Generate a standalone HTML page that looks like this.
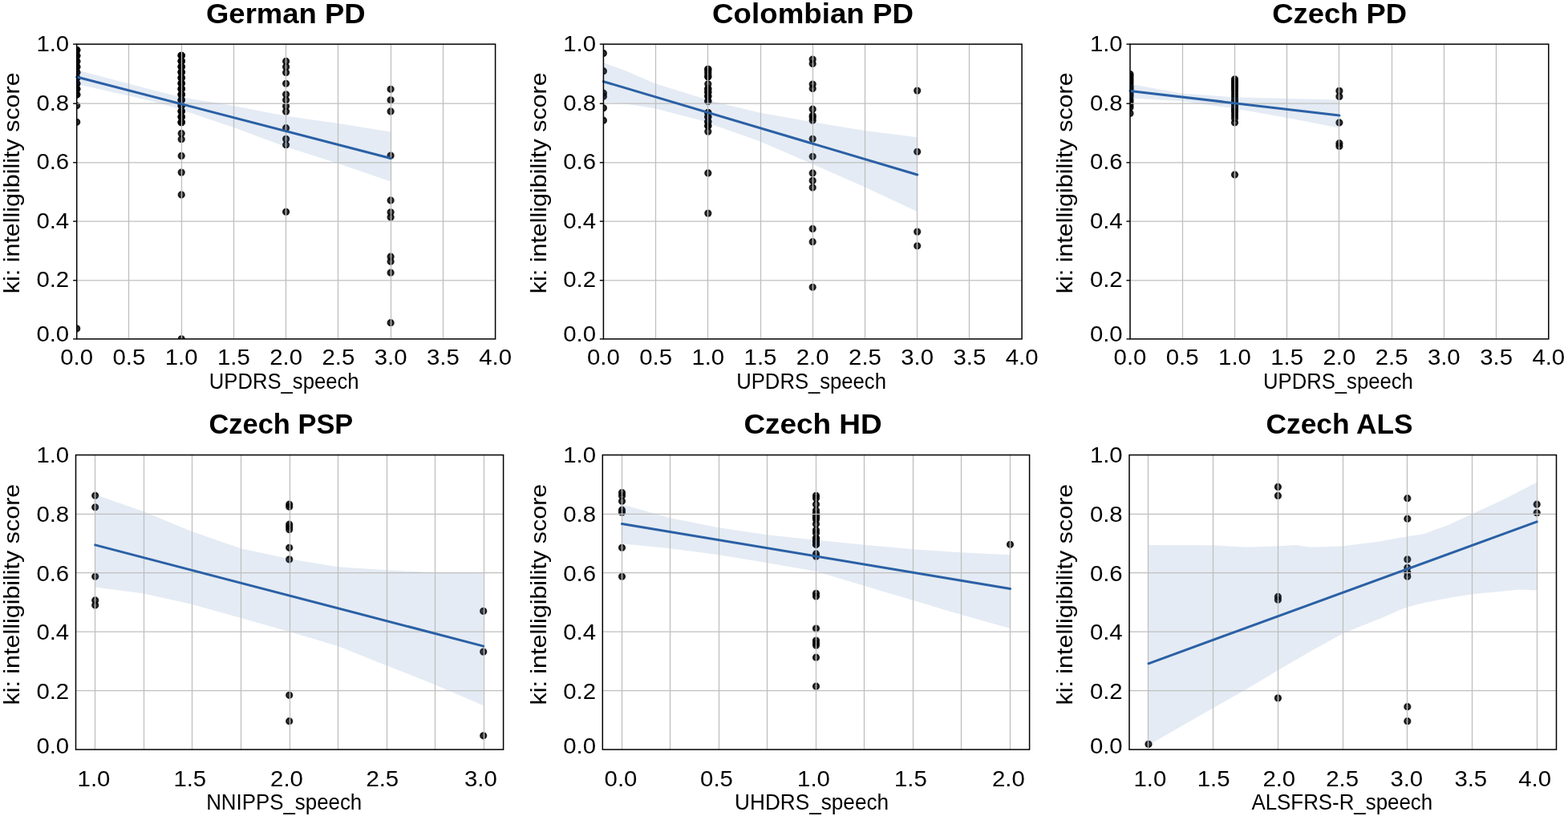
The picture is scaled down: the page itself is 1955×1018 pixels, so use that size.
<!DOCTYPE html>
<html lang="en"><head><meta charset="utf-8"><title>ki intelligibility score vs. clinical speech ratings</title>
<style>
html,body{margin:0;padding:0;background:#fff;}
body{width:1955px;height:1018px;overflow:hidden;}
svg{display:block;}
text{font-family:"Liberation Sans", sans-serif;fill:#000;}
.tk{font-size:28.2px;}
.lb{font-size:27.5px;}
.yl{font-size:28.5px;}
.tt{font-size:35.7px;font-weight:bold;}
.d{fill:#000;fill-opacity:.8;stroke:#000;stroke-opacity:.8;stroke-width:1.9;}
.g{stroke:#bfbfbf;stroke-width:1.3;fill:none;}
.sp{stroke:#000;stroke-width:1.5;fill:none;}
.tm{stroke:#000;stroke-width:1.4;fill:none;}
.rl{stroke:#2a60a5;stroke-width:3.0;fill:none;stroke-linecap:round;}
.bd{fill:#4c78b4;fill-opacity:0.15;stroke:none;}
</style></head><body>
<svg width="1955" height="1018" viewBox="0 0 1955 1018" role="img" aria-label="Six scatter plots of ki intelligibility score against clinical speech ratings with regression lines">
<rect x="0" y="0" width="1955" height="1018" fill="#fff"/>
<g id="panel1">
<clipPath id="c0"><rect x="95.7" y="55.1" width="521.9" height="367.8"/></clipPath>
<g clip-path="url(#c0)">
<circle class="d" cx="95.7" cy="62.6" r="3.7"/>
<circle class="d" cx="95.7" cy="62.6" r="3.7"/>
<circle class="d" cx="95.7" cy="62.6" r="3.7"/>
<circle class="d" cx="95.7" cy="69.5" r="3.7"/>
<circle class="d" cx="95.7" cy="69.5" r="3.7"/>
<circle class="d" cx="95.7" cy="69.5" r="3.7"/>
<circle class="d" cx="95.7" cy="76.5" r="3.7"/>
<circle class="d" cx="95.7" cy="76.5" r="3.7"/>
<circle class="d" cx="95.7" cy="76.5" r="3.7"/>
<circle class="d" cx="95.7" cy="83.4" r="3.7"/>
<circle class="d" cx="95.7" cy="83.4" r="3.7"/>
<circle class="d" cx="95.7" cy="83.4" r="3.7"/>
<circle class="d" cx="95.7" cy="90.3" r="3.7"/>
<circle class="d" cx="95.7" cy="90.3" r="3.7"/>
<circle class="d" cx="95.7" cy="90.3" r="3.7"/>
<circle class="d" cx="95.7" cy="97.2" r="3.7"/>
<circle class="d" cx="95.7" cy="97.2" r="3.7"/>
<circle class="d" cx="95.7" cy="97.2" r="3.7"/>
<circle class="d" cx="95.7" cy="104.2" r="3.7"/>
<circle class="d" cx="95.7" cy="104.2" r="3.7"/>
<circle class="d" cx="95.7" cy="104.2" r="3.7"/>
<circle class="d" cx="95.7" cy="111.1" r="3.7"/>
<circle class="d" cx="95.7" cy="111.1" r="3.7"/>
<circle class="d" cx="95.7" cy="111.1" r="3.7"/>
<circle class="d" cx="95.7" cy="118" r="3.7"/>
<circle class="d" cx="95.7" cy="118" r="3.7"/>
<circle class="d" cx="95.7" cy="118" r="3.7"/>
<circle class="d" cx="95.7" cy="131.8" r="3.7"/>
<circle class="d" cx="95.7" cy="152.3" r="3.7"/>
<circle class="d" cx="95.7" cy="409.9" r="3.7"/>
<circle class="d" cx="226.2" cy="69.3" r="3.7"/>
<circle class="d" cx="226.2" cy="69.3" r="3.7"/>
<circle class="d" cx="226.2" cy="69.3" r="3.7"/>
<circle class="d" cx="226.2" cy="76.2" r="3.7"/>
<circle class="d" cx="226.2" cy="76.2" r="3.7"/>
<circle class="d" cx="226.2" cy="76.2" r="3.7"/>
<circle class="d" cx="226.2" cy="83.2" r="3.7"/>
<circle class="d" cx="226.2" cy="83.2" r="3.7"/>
<circle class="d" cx="226.2" cy="83.2" r="3.7"/>
<circle class="d" cx="226.2" cy="90.1" r="3.7"/>
<circle class="d" cx="226.2" cy="90.1" r="3.7"/>
<circle class="d" cx="226.2" cy="90.1" r="3.7"/>
<circle class="d" cx="226.2" cy="97.1" r="3.7"/>
<circle class="d" cx="226.2" cy="97.1" r="3.7"/>
<circle class="d" cx="226.2" cy="97.1" r="3.7"/>
<circle class="d" cx="226.2" cy="104" r="3.7"/>
<circle class="d" cx="226.2" cy="104" r="3.7"/>
<circle class="d" cx="226.2" cy="104" r="3.7"/>
<circle class="d" cx="226.2" cy="110.9" r="3.7"/>
<circle class="d" cx="226.2" cy="110.9" r="3.7"/>
<circle class="d" cx="226.2" cy="110.9" r="3.7"/>
<circle class="d" cx="226.2" cy="117.9" r="3.7"/>
<circle class="d" cx="226.2" cy="117.9" r="3.7"/>
<circle class="d" cx="226.2" cy="117.9" r="3.7"/>
<circle class="d" cx="226.2" cy="124.8" r="3.7"/>
<circle class="d" cx="226.2" cy="124.8" r="3.7"/>
<circle class="d" cx="226.2" cy="124.8" r="3.7"/>
<circle class="d" cx="226.2" cy="131.8" r="3.7"/>
<circle class="d" cx="226.2" cy="131.8" r="3.7"/>
<circle class="d" cx="226.2" cy="131.8" r="3.7"/>
<circle class="d" cx="226.2" cy="138.7" r="3.7"/>
<circle class="d" cx="226.2" cy="138.7" r="3.7"/>
<circle class="d" cx="226.2" cy="138.7" r="3.7"/>
<circle class="d" cx="226.2" cy="145.7" r="3.7"/>
<circle class="d" cx="226.2" cy="145.7" r="3.7"/>
<circle class="d" cx="226.2" cy="145.7" r="3.7"/>
<circle class="d" cx="226.2" cy="152.6" r="3.7"/>
<circle class="d" cx="226.2" cy="152.6" r="3.7"/>
<circle class="d" cx="226.2" cy="152.6" r="3.7"/>
<circle class="d" cx="226.2" cy="166.5" r="3.7"/>
<circle class="d" cx="226.2" cy="173.7" r="3.7"/>
<circle class="d" cx="226.2" cy="194.5" r="3.7"/>
<circle class="d" cx="226.2" cy="215.1" r="3.7"/>
<circle class="d" cx="226.2" cy="243" r="3.7"/>
<circle class="d" cx="226.2" cy="422.9" r="3.7"/>
<circle class="d" cx="356.6" cy="76.5" r="3.7"/>
<circle class="d" cx="356.6" cy="83.4" r="3.7"/>
<circle class="d" cx="356.6" cy="90.5" r="3.7"/>
<circle class="d" cx="356.6" cy="104.3" r="3.7"/>
<circle class="d" cx="356.6" cy="117.8" r="3.7"/>
<circle class="d" cx="356.6" cy="124.8" r="3.7"/>
<circle class="d" cx="356.6" cy="132.4" r="3.7"/>
<circle class="d" cx="356.6" cy="139.1" r="3.7"/>
<circle class="d" cx="356.6" cy="159.7" r="3.7"/>
<circle class="d" cx="356.6" cy="173.4" r="3.7"/>
<circle class="d" cx="356.6" cy="180.7" r="3.7"/>
<circle class="d" cx="356.6" cy="264.3" r="3.7"/>
<circle class="d" cx="487.1" cy="111.3" r="3.7"/>
<circle class="d" cx="487.1" cy="124.9" r="3.7"/>
<circle class="d" cx="487.1" cy="139" r="3.7"/>
<circle class="d" cx="487.1" cy="194.1" r="3.7"/>
<circle class="d" cx="487.1" cy="250" r="3.7"/>
<circle class="d" cx="487.1" cy="264.8" r="3.7"/>
<circle class="d" cx="487.1" cy="271" r="3.7"/>
<circle class="d" cx="487.1" cy="320.2" r="3.7"/>
<circle class="d" cx="487.1" cy="326.2" r="3.7"/>
<circle class="d" cx="487.1" cy="340.2" r="3.7"/>
<circle class="d" cx="487.1" cy="402.7" r="3.7"/>
<polygon class="bd" points="95.7,87.2 160.9,104.4 200.1,114.8 226.2,121.3 291.4,132 356.6,144.8 421.9,154 487.1,164.5 487.1,226.5 421.9,204.1 356.6,183.3 291.4,159 226.2,137 200.1,129 160.9,119.5 95.7,105"/>
<line class="g" x1="160.5" y1="55.1" x2="160.5" y2="422.9"/>
<line class="g" x1="226.5" y1="55.1" x2="226.5" y2="422.9"/>
<line class="g" x1="291.5" y1="55.1" x2="291.5" y2="422.9"/>
<line class="g" x1="356.5" y1="55.1" x2="356.5" y2="422.9"/>
<line class="g" x1="421.5" y1="55.1" x2="421.5" y2="422.9"/>
<line class="g" x1="487.5" y1="55.1" x2="487.5" y2="422.9"/>
<line class="g" x1="552.5" y1="55.1" x2="552.5" y2="422.9"/>
<line class="g" x1="95.7" y1="349.8" x2="617.6" y2="349.8"/>
<line class="g" x1="95.7" y1="276.1" x2="617.6" y2="276.1"/>
<line class="g" x1="95.7" y1="202.8" x2="617.6" y2="202.8"/>
<line class="g" x1="95.7" y1="129.2" x2="617.6" y2="129.2"/>
</g>
<line class="rl" x1="95.7" y1="96" x2="487.1" y2="197.5"/>
<rect class="sp" x="95.7" y="55.1" width="521.9" height="367.8"/>
<line class="tm" x1="91.1" y1="422.9" x2="95.7" y2="422.9"/>
<text class="tk" x="86.2" y="426.4" text-anchor="end" textLength="40.8" lengthAdjust="spacingAndGlyphs">0.0</text>
<line class="tm" x1="91.1" y1="349.8" x2="95.7" y2="349.8"/>
<text class="tk" x="86.2" y="358" text-anchor="end" textLength="40.8" lengthAdjust="spacingAndGlyphs">0.2</text>
<line class="tm" x1="91.1" y1="276.1" x2="95.7" y2="276.1"/>
<text class="tk" x="86.2" y="284.6" text-anchor="end" textLength="40.8" lengthAdjust="spacingAndGlyphs">0.4</text>
<line class="tm" x1="91.1" y1="202.8" x2="95.7" y2="202.8"/>
<text class="tk" x="86.2" y="211.2" text-anchor="end" textLength="40.8" lengthAdjust="spacingAndGlyphs">0.6</text>
<line class="tm" x1="91.1" y1="129.2" x2="95.7" y2="129.2"/>
<text class="tk" x="86.2" y="137.9" text-anchor="end" textLength="40.8" lengthAdjust="spacingAndGlyphs">0.8</text>
<line class="tm" x1="91.1" y1="55.1" x2="95.7" y2="55.1"/>
<text class="tk" x="86.2" y="64.1" text-anchor="end" textLength="40.8" lengthAdjust="spacingAndGlyphs">1.0</text>
<text class="tk" x="95.7" y="455.4" text-anchor="middle" textLength="40.8" lengthAdjust="spacingAndGlyphs">0.0</text>
<text class="tk" x="160.9" y="455.4" text-anchor="middle" textLength="40.8" lengthAdjust="spacingAndGlyphs">0.5</text>
<text class="tk" x="226.2" y="455.4" text-anchor="middle" textLength="40.8" lengthAdjust="spacingAndGlyphs">1.0</text>
<text class="tk" x="291.4" y="455.4" text-anchor="middle" textLength="40.8" lengthAdjust="spacingAndGlyphs">1.5</text>
<text class="tk" x="356.6" y="455.4" text-anchor="middle" textLength="40.8" lengthAdjust="spacingAndGlyphs">2.0</text>
<text class="tk" x="421.9" y="455.4" text-anchor="middle" textLength="40.8" lengthAdjust="spacingAndGlyphs">2.5</text>
<text class="tk" x="487.1" y="455.4" text-anchor="middle" textLength="40.8" lengthAdjust="spacingAndGlyphs">3.0</text>
<text class="tk" x="552.4" y="455.4" text-anchor="middle" textLength="40.8" lengthAdjust="spacingAndGlyphs">3.5</text>
<text class="tk" x="617.6" y="455.4" text-anchor="middle" textLength="40.8" lengthAdjust="spacingAndGlyphs">4.0</text>
<text class="tt" x="356.3" y="29.3" text-anchor="middle" textLength="198.6" lengthAdjust="spacingAndGlyphs">German PD</text>
<text class="lb" x="354.2" y="485.2" text-anchor="middle" textLength="186.7" lengthAdjust="spacingAndGlyphs">UPDRS_speech</text>
<text class="yl" transform="translate(23.9 228.3) rotate(-90)" text-anchor="middle" textLength="275.8" lengthAdjust="spacingAndGlyphs">ki: intelligibility score</text>
</g>
<g id="panel2">
<clipPath id="c1"><rect x="752.4" y="55.1" width="521.7" height="367.8"/></clipPath>
<g clip-path="url(#c1)">
<circle class="d" cx="752.4" cy="66.5" r="3.7"/>
<circle class="d" cx="752.4" cy="88.7" r="3.7"/>
<circle class="d" cx="752.4" cy="116.2" r="3.7"/>
<circle class="d" cx="752.4" cy="120.2" r="3.7"/>
<circle class="d" cx="752.4" cy="134.8" r="3.7"/>
<circle class="d" cx="752.4" cy="150.2" r="3.7"/>
<circle class="d" cx="882.8" cy="86.4" r="3.7"/>
<circle class="d" cx="882.8" cy="86.4" r="3.7"/>
<circle class="d" cx="882.8" cy="89.5" r="3.7"/>
<circle class="d" cx="882.8" cy="92" r="3.7"/>
<circle class="d" cx="882.8" cy="95.6" r="3.7"/>
<circle class="d" cx="882.8" cy="95.6" r="3.7"/>
<circle class="d" cx="882.8" cy="104.8" r="3.7"/>
<circle class="d" cx="882.8" cy="110.9" r="3.7"/>
<circle class="d" cx="882.8" cy="110.9" r="3.7"/>
<circle class="d" cx="882.8" cy="115" r="3.7"/>
<circle class="d" cx="882.8" cy="115" r="3.7"/>
<circle class="d" cx="882.8" cy="120.1" r="3.7"/>
<circle class="d" cx="882.8" cy="120.1" r="3.7"/>
<circle class="d" cx="882.8" cy="126.3" r="3.7"/>
<circle class="d" cx="882.8" cy="126.3" r="3.7"/>
<circle class="d" cx="882.8" cy="140.6" r="3.7"/>
<circle class="d" cx="882.8" cy="140.6" r="3.7"/>
<circle class="d" cx="882.8" cy="145.7" r="3.7"/>
<circle class="d" cx="882.8" cy="145.7" r="3.7"/>
<circle class="d" cx="882.8" cy="151.8" r="3.7"/>
<circle class="d" cx="882.8" cy="151.8" r="3.7"/>
<circle class="d" cx="882.8" cy="157" r="3.7"/>
<circle class="d" cx="882.8" cy="157" r="3.7"/>
<circle class="d" cx="882.8" cy="164.1" r="3.7"/>
<circle class="d" cx="882.8" cy="216" r="3.7"/>
<circle class="d" cx="882.8" cy="266.1" r="3.7"/>
<circle class="d" cx="1013.2" cy="74.1" r="3.7"/>
<circle class="d" cx="1013.2" cy="79.5" r="3.7"/>
<circle class="d" cx="1013.2" cy="105.1" r="3.7"/>
<circle class="d" cx="1013.2" cy="110.5" r="3.7"/>
<circle class="d" cx="1013.2" cy="136.2" r="3.7"/>
<circle class="d" cx="1013.2" cy="144.2" r="3.7"/>
<circle class="d" cx="1013.2" cy="146.5" r="3.7"/>
<circle class="d" cx="1013.2" cy="150.2" r="3.7"/>
<circle class="d" cx="1013.2" cy="173.3" r="3.7"/>
<circle class="d" cx="1013.2" cy="195.3" r="3.7"/>
<circle class="d" cx="1013.2" cy="216" r="3.7"/>
<circle class="d" cx="1013.2" cy="225.4" r="3.7"/>
<circle class="d" cx="1013.2" cy="234" r="3.7"/>
<circle class="d" cx="1013.2" cy="285.5" r="3.7"/>
<circle class="d" cx="1013.2" cy="301.7" r="3.7"/>
<circle class="d" cx="1013.2" cy="358.3" r="3.7"/>
<circle class="d" cx="1143.7" cy="113.1" r="3.7"/>
<circle class="d" cx="1143.7" cy="189.3" r="3.7"/>
<circle class="d" cx="1143.7" cy="289.1" r="3.7"/>
<circle class="d" cx="1143.7" cy="306.8" r="3.7"/>
<polygon class="bd" points="752.4,78.1 783,89.6 817.6,104.6 875,122.3 882.8,125 948,140.8 1013.2,152.3 1078.5,163 1143.7,171.3 1143.7,264.1 1078.5,233.5 1013.2,204.8 948,176.6 882.8,153.6 875,150.6 817.6,135.6 783,130 752.4,127.2"/>
<line class="g" x1="817.5" y1="55.1" x2="817.5" y2="422.9"/>
<line class="g" x1="882.5" y1="55.1" x2="882.5" y2="422.9"/>
<line class="g" x1="948.5" y1="55.1" x2="948.5" y2="422.9"/>
<line class="g" x1="1013.5" y1="55.1" x2="1013.5" y2="422.9"/>
<line class="g" x1="1078.5" y1="55.1" x2="1078.5" y2="422.9"/>
<line class="g" x1="1143.5" y1="55.1" x2="1143.5" y2="422.9"/>
<line class="g" x1="1208.5" y1="55.1" x2="1208.5" y2="422.9"/>
<line class="g" x1="752.4" y1="349.8" x2="1274.1" y2="349.8"/>
<line class="g" x1="752.4" y1="276.1" x2="1274.1" y2="276.1"/>
<line class="g" x1="752.4" y1="202.8" x2="1274.1" y2="202.8"/>
<line class="g" x1="752.4" y1="129.2" x2="1274.1" y2="129.2"/>
</g>
<line class="rl" x1="752.4" y1="101.7" x2="1143.7" y2="218"/>
<rect class="sp" x="752.4" y="55.1" width="521.7" height="367.8"/>
<line class="tm" x1="747.8" y1="422.9" x2="752.4" y2="422.9"/>
<text class="tk" x="743.1" y="426.4" text-anchor="end" textLength="40.8" lengthAdjust="spacingAndGlyphs">0.0</text>
<line class="tm" x1="747.8" y1="349.8" x2="752.4" y2="349.8"/>
<text class="tk" x="743.1" y="358" text-anchor="end" textLength="40.8" lengthAdjust="spacingAndGlyphs">0.2</text>
<line class="tm" x1="747.8" y1="276.1" x2="752.4" y2="276.1"/>
<text class="tk" x="743.1" y="284.6" text-anchor="end" textLength="40.8" lengthAdjust="spacingAndGlyphs">0.4</text>
<line class="tm" x1="747.8" y1="202.8" x2="752.4" y2="202.8"/>
<text class="tk" x="743.1" y="211.2" text-anchor="end" textLength="40.8" lengthAdjust="spacingAndGlyphs">0.6</text>
<line class="tm" x1="747.8" y1="129.2" x2="752.4" y2="129.2"/>
<text class="tk" x="743.1" y="137.9" text-anchor="end" textLength="40.8" lengthAdjust="spacingAndGlyphs">0.8</text>
<line class="tm" x1="747.8" y1="55.1" x2="752.4" y2="55.1"/>
<text class="tk" x="743.1" y="64.1" text-anchor="end" textLength="40.8" lengthAdjust="spacingAndGlyphs">1.0</text>
<text class="tk" x="752.4" y="455.4" text-anchor="middle" textLength="40.8" lengthAdjust="spacingAndGlyphs">0.0</text>
<text class="tk" x="817.6" y="455.4" text-anchor="middle" textLength="40.8" lengthAdjust="spacingAndGlyphs">0.5</text>
<text class="tk" x="882.8" y="455.4" text-anchor="middle" textLength="40.8" lengthAdjust="spacingAndGlyphs">1.0</text>
<text class="tk" x="948" y="455.4" text-anchor="middle" textLength="40.8" lengthAdjust="spacingAndGlyphs">1.5</text>
<text class="tk" x="1013.2" y="455.4" text-anchor="middle" textLength="40.8" lengthAdjust="spacingAndGlyphs">2.0</text>
<text class="tk" x="1078.5" y="455.4" text-anchor="middle" textLength="40.8" lengthAdjust="spacingAndGlyphs">2.5</text>
<text class="tk" x="1143.7" y="455.4" text-anchor="middle" textLength="40.8" lengthAdjust="spacingAndGlyphs">3.0</text>
<text class="tk" x="1208.9" y="455.4" text-anchor="middle" textLength="40.8" lengthAdjust="spacingAndGlyphs">3.5</text>
<text class="tk" x="1274.1" y="455.4" text-anchor="middle" textLength="40.8" lengthAdjust="spacingAndGlyphs">4.0</text>
<text class="tt" x="1013.5" y="29.3" text-anchor="middle" textLength="250.8" lengthAdjust="spacingAndGlyphs">Colombian PD</text>
<text class="lb" x="1011.6" y="485.2" text-anchor="middle" textLength="186.7" lengthAdjust="spacingAndGlyphs">UPDRS_speech</text>
<text class="yl" transform="translate(680.6 228.3) rotate(-90)" text-anchor="middle" textLength="275.8" lengthAdjust="spacingAndGlyphs">ki: intelligibility score</text>
</g>
<g id="panel3">
<clipPath id="c2"><rect x="1409" y="55.1" width="521.8" height="367.8"/></clipPath>
<g clip-path="url(#c2)">
<circle class="d" cx="1409" cy="92.5" r="3.7"/>
<circle class="d" cx="1409" cy="95" r="3.7"/>
<circle class="d" cx="1409" cy="98.1" r="3.7"/>
<circle class="d" cx="1409" cy="100.9" r="3.7"/>
<circle class="d" cx="1409" cy="104.1" r="3.7"/>
<circle class="d" cx="1409" cy="107.3" r="3.7"/>
<circle class="d" cx="1409" cy="109.5" r="3.7"/>
<circle class="d" cx="1409" cy="111.6" r="3.7"/>
<circle class="d" cx="1409" cy="115.2" r="3.7"/>
<circle class="d" cx="1409" cy="117.8" r="3.7"/>
<circle class="d" cx="1409" cy="120.3" r="3.7"/>
<circle class="d" cx="1409" cy="124.2" r="3.7"/>
<circle class="d" cx="1409" cy="127.2" r="3.7"/>
<circle class="d" cx="1409" cy="130.8" r="3.7"/>
<circle class="d" cx="1409" cy="134" r="3.7"/>
<circle class="d" cx="1409" cy="141.4" r="3.7"/>
<circle class="d" cx="1539.5" cy="98.8" r="3.7"/>
<circle class="d" cx="1539.5" cy="101.3" r="3.7"/>
<circle class="d" cx="1539.5" cy="103.6" r="3.7"/>
<circle class="d" cx="1539.5" cy="106.4" r="3.7"/>
<circle class="d" cx="1539.5" cy="108.8" r="3.7"/>
<circle class="d" cx="1539.5" cy="111" r="3.7"/>
<circle class="d" cx="1539.5" cy="113.8" r="3.7"/>
<circle class="d" cx="1539.5" cy="117.6" r="3.7"/>
<circle class="d" cx="1539.5" cy="121.1" r="3.7"/>
<circle class="d" cx="1539.5" cy="124.6" r="3.7"/>
<circle class="d" cx="1539.5" cy="127.1" r="3.7"/>
<circle class="d" cx="1539.5" cy="130.2" r="3.7"/>
<circle class="d" cx="1539.5" cy="132.8" r="3.7"/>
<circle class="d" cx="1539.5" cy="135.2" r="3.7"/>
<circle class="d" cx="1539.5" cy="137.5" r="3.7"/>
<circle class="d" cx="1539.5" cy="140" r="3.7"/>
<circle class="d" cx="1539.5" cy="143.7" r="3.7"/>
<circle class="d" cx="1539.5" cy="147.5" r="3.7"/>
<circle class="d" cx="1539.5" cy="152.9" r="3.7"/>
<circle class="d" cx="1539.5" cy="218" r="3.7"/>
<circle class="d" cx="1669.9" cy="113.4" r="3.7"/>
<circle class="d" cx="1669.9" cy="120.4" r="3.7"/>
<circle class="d" cx="1669.9" cy="153" r="3.7"/>
<circle class="d" cx="1669.9" cy="178.7" r="3.7"/>
<circle class="d" cx="1669.9" cy="182.4" r="3.7"/>
<polygon class="bd" points="1409,104.8 1474.2,116.8 1539.5,121.3 1604.7,123 1669.9,124.5 1669.9,159.4 1604.7,147 1539.5,135.6 1474.2,126.2 1409,122.5"/>
<line class="g" x1="1474.5" y1="55.1" x2="1474.5" y2="422.9"/>
<line class="g" x1="1539.5" y1="55.1" x2="1539.5" y2="422.9"/>
<line class="g" x1="1604.5" y1="55.1" x2="1604.5" y2="422.9"/>
<line class="g" x1="1669.5" y1="55.1" x2="1669.5" y2="422.9"/>
<line class="g" x1="1735.5" y1="55.1" x2="1735.5" y2="422.9"/>
<line class="g" x1="1800.5" y1="55.1" x2="1800.5" y2="422.9"/>
<line class="g" x1="1865.5" y1="55.1" x2="1865.5" y2="422.9"/>
<line class="g" x1="1409" y1="349.8" x2="1930.8" y2="349.8"/>
<line class="g" x1="1409" y1="276.1" x2="1930.8" y2="276.1"/>
<line class="g" x1="1409" y1="202.8" x2="1930.8" y2="202.8"/>
<line class="g" x1="1409" y1="129.2" x2="1930.8" y2="129.2"/>
</g>
<line class="rl" x1="1409" y1="113.4" x2="1669.9" y2="144"/>
<rect class="sp" x="1409" y="55.1" width="521.8" height="367.8"/>
<line class="tm" x1="1404.4" y1="422.9" x2="1409" y2="422.9"/>
<text class="tk" x="1399.7" y="426.4" text-anchor="end" textLength="40.8" lengthAdjust="spacingAndGlyphs">0.0</text>
<line class="tm" x1="1404.4" y1="349.8" x2="1409" y2="349.8"/>
<text class="tk" x="1399.7" y="358" text-anchor="end" textLength="40.8" lengthAdjust="spacingAndGlyphs">0.2</text>
<line class="tm" x1="1404.4" y1="276.1" x2="1409" y2="276.1"/>
<text class="tk" x="1399.7" y="284.6" text-anchor="end" textLength="40.8" lengthAdjust="spacingAndGlyphs">0.4</text>
<line class="tm" x1="1404.4" y1="202.8" x2="1409" y2="202.8"/>
<text class="tk" x="1399.7" y="211.2" text-anchor="end" textLength="40.8" lengthAdjust="spacingAndGlyphs">0.6</text>
<line class="tm" x1="1404.4" y1="129.2" x2="1409" y2="129.2"/>
<text class="tk" x="1399.7" y="137.9" text-anchor="end" textLength="40.8" lengthAdjust="spacingAndGlyphs">0.8</text>
<line class="tm" x1="1404.4" y1="55.1" x2="1409" y2="55.1"/>
<text class="tk" x="1399.7" y="64.1" text-anchor="end" textLength="40.8" lengthAdjust="spacingAndGlyphs">1.0</text>
<text class="tk" x="1409" y="455.4" text-anchor="middle" textLength="40.8" lengthAdjust="spacingAndGlyphs">0.0</text>
<text class="tk" x="1474.2" y="455.4" text-anchor="middle" textLength="40.8" lengthAdjust="spacingAndGlyphs">0.5</text>
<text class="tk" x="1539.5" y="455.4" text-anchor="middle" textLength="40.8" lengthAdjust="spacingAndGlyphs">1.0</text>
<text class="tk" x="1604.7" y="455.4" text-anchor="middle" textLength="40.8" lengthAdjust="spacingAndGlyphs">1.5</text>
<text class="tk" x="1669.9" y="455.4" text-anchor="middle" textLength="40.8" lengthAdjust="spacingAndGlyphs">2.0</text>
<text class="tk" x="1735.1" y="455.4" text-anchor="middle" textLength="40.8" lengthAdjust="spacingAndGlyphs">2.5</text>
<text class="tk" x="1800.3" y="455.4" text-anchor="middle" textLength="40.8" lengthAdjust="spacingAndGlyphs">3.0</text>
<text class="tk" x="1865.6" y="455.4" text-anchor="middle" textLength="40.8" lengthAdjust="spacingAndGlyphs">3.5</text>
<text class="tk" x="1930.8" y="455.4" text-anchor="middle" textLength="40.8" lengthAdjust="spacingAndGlyphs">4.0</text>
<text class="tt" x="1670.2" y="29.3" text-anchor="middle" textLength="167.8" lengthAdjust="spacingAndGlyphs">Czech PD</text>
<text class="lb" x="1668.4" y="485.2" text-anchor="middle" textLength="186.7" lengthAdjust="spacingAndGlyphs">UPDRS_speech</text>
<text class="yl" transform="translate(1337 228.3) rotate(-90)" text-anchor="middle" textLength="275.8" lengthAdjust="spacingAndGlyphs">ki: intelligibility score</text>
</g>
<g id="panel4">
<clipPath id="c3"><rect x="94.5" y="567.6" width="533.1" height="367.5"/></clipPath>
<g clip-path="url(#c3)">
<circle class="d" cx="118.7" cy="618.3" r="3.7"/>
<circle class="d" cx="118.7" cy="632.8" r="3.7"/>
<circle class="d" cx="118.7" cy="719.3" r="3.7"/>
<circle class="d" cx="118.7" cy="749" r="3.7"/>
<circle class="d" cx="118.7" cy="755" r="3.7"/>
<circle class="d" cx="360.7" cy="629.2" r="3.7"/>
<circle class="d" cx="360.7" cy="632.2" r="3.7"/>
<circle class="d" cx="360.7" cy="654.2" r="3.7"/>
<circle class="d" cx="360.7" cy="657.2" r="3.7"/>
<circle class="d" cx="360.7" cy="660.6" r="3.7"/>
<circle class="d" cx="360.7" cy="683.3" r="3.7"/>
<circle class="d" cx="360.7" cy="697.9" r="3.7"/>
<circle class="d" cx="360.7" cy="867.3" r="3.7"/>
<circle class="d" cx="360.7" cy="899.7" r="3.7"/>
<circle class="d" cx="602.7" cy="762.4" r="3.7"/>
<circle class="d" cx="602.7" cy="813.1" r="3.7"/>
<circle class="d" cx="602.7" cy="917.8" r="3.7"/>
<polygon class="bd" points="118.7,617.1 179.2,638.2 239.7,663.2 300.4,684.3 360.6,697.3 421.3,707.3 481.9,711.3 542.4,714.3 602.7,715.3 602.7,880.3 542.4,854.2 481.9,830.2 421.3,806.1 360.6,788.1 300.4,771.1 239.7,754 179.2,740.4 118.7,732.4"/>
<line class="g" x1="118.5" y1="567.6" x2="118.5" y2="935.1"/>
<line class="g" x1="179.5" y1="567.6" x2="179.5" y2="935.1"/>
<line class="g" x1="239.5" y1="567.6" x2="239.5" y2="935.1"/>
<line class="g" x1="300.5" y1="567.6" x2="300.5" y2="935.1"/>
<line class="g" x1="361.5" y1="567.6" x2="361.5" y2="935.1"/>
<line class="g" x1="421.5" y1="567.6" x2="421.5" y2="935.1"/>
<line class="g" x1="482.5" y1="567.6" x2="482.5" y2="935.1"/>
<line class="g" x1="542.5" y1="567.6" x2="542.5" y2="935.1"/>
<line class="g" x1="603.5" y1="567.6" x2="603.5" y2="935.1"/>
<line class="g" x1="94.5" y1="861.7" x2="627.6" y2="861.7"/>
<line class="g" x1="94.5" y1="788.1" x2="627.6" y2="788.1"/>
<line class="g" x1="94.5" y1="714.7" x2="627.6" y2="714.7"/>
<line class="g" x1="94.5" y1="641.4" x2="627.6" y2="641.4"/>
</g>
<line class="rl" x1="118.7" y1="679.9" x2="602.7" y2="806.1"/>
<rect class="sp" x="94.5" y="567.6" width="533.1" height="367.5"/>
<text class="tk" x="86.2" y="939.9" text-anchor="end" textLength="40.8" lengthAdjust="spacingAndGlyphs">0.0</text>
<text class="tk" x="86.2" y="871.8" text-anchor="end" textLength="40.8" lengthAdjust="spacingAndGlyphs">0.2</text>
<text class="tk" x="86.2" y="798.2" text-anchor="end" textLength="40.8" lengthAdjust="spacingAndGlyphs">0.4</text>
<text class="tk" x="86.2" y="724.5" text-anchor="end" textLength="40.8" lengthAdjust="spacingAndGlyphs">0.6</text>
<text class="tk" x="86.2" y="650.8" text-anchor="end" textLength="40.8" lengthAdjust="spacingAndGlyphs">0.8</text>
<text class="tk" x="86.2" y="577.2" text-anchor="end" textLength="40.8" lengthAdjust="spacingAndGlyphs">1.0</text>
<text class="tk" x="117" y="981.1" text-anchor="middle" textLength="40.8" lengthAdjust="spacingAndGlyphs">1.0</text>
<text class="tk" x="236.8" y="981.1" text-anchor="middle" textLength="40.8" lengthAdjust="spacingAndGlyphs">1.5</text>
<text class="tk" x="357.5" y="981.1" text-anchor="middle" textLength="40.8" lengthAdjust="spacingAndGlyphs">2.0</text>
<text class="tk" x="476.8" y="981.1" text-anchor="middle" textLength="40.8" lengthAdjust="spacingAndGlyphs">2.5</text>
<text class="tk" x="599.4" y="981.1" text-anchor="middle" textLength="40.8" lengthAdjust="spacingAndGlyphs">3.0</text>
<text class="tt" x="350.4" y="541.2" text-anchor="middle" textLength="179.8" lengthAdjust="spacingAndGlyphs">Czech PSP</text>
<text class="lb" x="354.2" y="1009.8" text-anchor="middle" textLength="194" lengthAdjust="spacingAndGlyphs">NNIPPS_speech</text>
<text class="yl" transform="translate(23.9 741.7) rotate(-90)" text-anchor="middle" textLength="275.8" lengthAdjust="spacingAndGlyphs">ki: intelligibility score</text>
</g>
<g id="panel5">
<clipPath id="c4"><rect x="751.3" y="567.6" width="532.3" height="367.5"/></clipPath>
<g clip-path="url(#c4)">
<circle class="d" cx="775.5" cy="614.6" r="3.7"/>
<circle class="d" cx="775.5" cy="618.4" r="3.7"/>
<circle class="d" cx="775.5" cy="625.2" r="3.7"/>
<circle class="d" cx="775.5" cy="636.2" r="3.7"/>
<circle class="d" cx="775.5" cy="639.2" r="3.7"/>
<circle class="d" cx="775.5" cy="683.3" r="3.7"/>
<circle class="d" cx="775.5" cy="719.3" r="3.7"/>
<circle class="d" cx="1017.5" cy="618.4" r="3.7"/>
<circle class="d" cx="1017.5" cy="621.5" r="3.7"/>
<circle class="d" cx="1017.5" cy="629.2" r="3.7"/>
<circle class="d" cx="1017.5" cy="636.8" r="3.7"/>
<circle class="d" cx="1017.5" cy="640.9" r="3.7"/>
<circle class="d" cx="1017.5" cy="645" r="3.7"/>
<circle class="d" cx="1017.5" cy="648.1" r="3.7"/>
<circle class="d" cx="1017.5" cy="653.7" r="3.7"/>
<circle class="d" cx="1017.5" cy="661.4" r="3.7"/>
<circle class="d" cx="1017.5" cy="665" r="3.7"/>
<circle class="d" cx="1017.5" cy="671.6" r="3.7"/>
<circle class="d" cx="1017.5" cy="675.7" r="3.7"/>
<circle class="d" cx="1017.5" cy="679.3" r="3.7"/>
<circle class="d" cx="1017.5" cy="679.3" r="3.7"/>
<circle class="d" cx="1017.5" cy="675.7" r="3.7"/>
<circle class="d" cx="1017.5" cy="671.6" r="3.7"/>
<circle class="d" cx="1017.5" cy="645" r="3.7"/>
<circle class="d" cx="1017.5" cy="640.9" r="3.7"/>
<circle class="d" cx="1017.5" cy="691" r="3.7"/>
<circle class="d" cx="1017.5" cy="694.1" r="3.7"/>
<circle class="d" cx="1017.5" cy="740.4" r="3.7"/>
<circle class="d" cx="1017.5" cy="744" r="3.7"/>
<circle class="d" cx="1017.5" cy="784.1" r="3.7"/>
<circle class="d" cx="1017.5" cy="799.1" r="3.7"/>
<circle class="d" cx="1017.5" cy="802.1" r="3.7"/>
<circle class="d" cx="1017.5" cy="805.1" r="3.7"/>
<circle class="d" cx="1017.5" cy="820.2" r="3.7"/>
<circle class="d" cx="1017.5" cy="856.2" r="3.7"/>
<circle class="d" cx="1259.5" cy="679.3" r="3.7"/>
<polygon class="bd" points="775.5,629.2 835.8,646.2 896.3,658.2 956.8,667.2 1017.4,673.7 1078.1,679.8 1138.5,685.3 1199,689.3 1259.5,692.3 1259.5,784.1 1199,767.1 1138.5,749 1078.1,730.9 1017.4,712.8 956.8,702.3 896.3,692.3 835.8,684.3 775.5,678.3"/>
<line class="g" x1="775.5" y1="567.6" x2="775.5" y2="935.1"/>
<line class="g" x1="835.5" y1="567.6" x2="835.5" y2="935.1"/>
<line class="g" x1="896.5" y1="567.6" x2="896.5" y2="935.1"/>
<line class="g" x1="956.5" y1="567.6" x2="956.5" y2="935.1"/>
<line class="g" x1="1017.5" y1="567.6" x2="1017.5" y2="935.1"/>
<line class="g" x1="1077.5" y1="567.6" x2="1077.5" y2="935.1"/>
<line class="g" x1="1138.5" y1="567.6" x2="1138.5" y2="935.1"/>
<line class="g" x1="1198.5" y1="567.6" x2="1198.5" y2="935.1"/>
<line class="g" x1="1259.5" y1="567.6" x2="1259.5" y2="935.1"/>
<line class="g" x1="751.3" y1="861.7" x2="1283.6" y2="861.7"/>
<line class="g" x1="751.3" y1="788.1" x2="1283.6" y2="788.1"/>
<line class="g" x1="751.3" y1="714.7" x2="1283.6" y2="714.7"/>
<line class="g" x1="751.3" y1="641.4" x2="1283.6" y2="641.4"/>
</g>
<line class="rl" x1="775.5" y1="653.6" x2="1259.5" y2="734.4"/>
<rect class="sp" x="751.3" y="567.6" width="532.3" height="367.5"/>
<text class="tk" x="743.1" y="939.9" text-anchor="end" textLength="40.8" lengthAdjust="spacingAndGlyphs">0.0</text>
<text class="tk" x="743.1" y="871.8" text-anchor="end" textLength="40.8" lengthAdjust="spacingAndGlyphs">0.2</text>
<text class="tk" x="743.1" y="798.2" text-anchor="end" textLength="40.8" lengthAdjust="spacingAndGlyphs">0.4</text>
<text class="tk" x="743.1" y="724.5" text-anchor="end" textLength="40.8" lengthAdjust="spacingAndGlyphs">0.6</text>
<text class="tk" x="743.1" y="650.8" text-anchor="end" textLength="40.8" lengthAdjust="spacingAndGlyphs">0.8</text>
<text class="tk" x="743.1" y="577.2" text-anchor="end" textLength="40.8" lengthAdjust="spacingAndGlyphs">1.0</text>
<text class="tk" x="774" y="981.1" text-anchor="middle" textLength="40.8" lengthAdjust="spacingAndGlyphs">0.0</text>
<text class="tk" x="893.5" y="981.1" text-anchor="middle" textLength="40.8" lengthAdjust="spacingAndGlyphs">0.5</text>
<text class="tk" x="1014.5" y="981.1" text-anchor="middle" textLength="40.8" lengthAdjust="spacingAndGlyphs">1.0</text>
<text class="tk" x="1135.4" y="981.1" text-anchor="middle" textLength="40.8" lengthAdjust="spacingAndGlyphs">1.5</text>
<text class="tk" x="1257.4" y="981.1" text-anchor="middle" textLength="40.8" lengthAdjust="spacingAndGlyphs">2.0</text>
<text class="tt" x="1013.5" y="541.2" text-anchor="middle" textLength="172.2" lengthAdjust="spacingAndGlyphs">Czech HD</text>
<text class="lb" x="1012.1" y="1009.8" text-anchor="middle" textLength="192" lengthAdjust="spacingAndGlyphs">UHDRS_speech</text>
<text class="yl" transform="translate(680.6 741.7) rotate(-90)" text-anchor="middle" textLength="275.8" lengthAdjust="spacingAndGlyphs">ki: intelligibility score</text>
</g>
<g id="panel6">
<clipPath id="c5"><rect x="1408" y="567.6" width="532.5" height="367.5"/></clipPath>
<g clip-path="url(#c5)">
<circle class="d" cx="1432" cy="928.4" r="3.7"/>
<circle class="d" cx="1593.4" cy="607.5" r="3.7"/>
<circle class="d" cx="1593.4" cy="618.5" r="3.7"/>
<circle class="d" cx="1593.4" cy="744.5" r="3.7"/>
<circle class="d" cx="1593.4" cy="748.2" r="3.7"/>
<circle class="d" cx="1593.4" cy="870.9" r="3.7"/>
<circle class="d" cx="1754.8" cy="621.7" r="3.7"/>
<circle class="d" cx="1754.8" cy="647.2" r="3.7"/>
<circle class="d" cx="1754.8" cy="697.9" r="3.7"/>
<circle class="d" cx="1754.8" cy="708.3" r="3.7"/>
<circle class="d" cx="1754.8" cy="714.3" r="3.7"/>
<circle class="d" cx="1754.8" cy="719.3" r="3.7"/>
<circle class="d" cx="1754.8" cy="881.7" r="3.7"/>
<circle class="d" cx="1754.8" cy="899.7" r="3.7"/>
<circle class="d" cx="1916.2" cy="629.2" r="3.7"/>
<circle class="d" cx="1916.2" cy="639.8" r="3.7"/>
<polygon class="bd" points="1432,679.9 1512.6,680.3 1555,682.7 1593.4,681.3 1615,679.9 1635,682.7 1674,681.3 1715,676.3 1754.7,669.2 1775,666.2 1805,655.2 1835.3,641.2 1875,623.1 1916.1,601.7 1916.1,736.4 1895,735.4 1875,737.4 1835.3,741.2 1804.5,746.2 1774.4,752.2 1754.6,757.5 1744.4,761.3 1724.3,770.3 1704.3,778.3 1673.8,790.6 1635,812.1 1593.4,836.2 1555,859.2 1512.6,883.3 1432,929.4"/>
<line class="g" x1="1431.5" y1="567.6" x2="1431.5" y2="935.1"/>
<line class="g" x1="1512.5" y1="567.6" x2="1512.5" y2="935.1"/>
<line class="g" x1="1593.5" y1="567.6" x2="1593.5" y2="935.1"/>
<line class="g" x1="1674.5" y1="567.6" x2="1674.5" y2="935.1"/>
<line class="g" x1="1754.5" y1="567.6" x2="1754.5" y2="935.1"/>
<line class="g" x1="1835.5" y1="567.6" x2="1835.5" y2="935.1"/>
<line class="g" x1="1916.5" y1="567.6" x2="1916.5" y2="935.1"/>
<line class="g" x1="1408" y1="861.7" x2="1940.5" y2="861.7"/>
<line class="g" x1="1408" y1="788.1" x2="1940.5" y2="788.1"/>
<line class="g" x1="1408" y1="714.7" x2="1940.5" y2="714.7"/>
<line class="g" x1="1408" y1="641.4" x2="1940.5" y2="641.4"/>
</g>
<line class="rl" x1="1432" y1="827.8" x2="1916.2" y2="650.8"/>
<rect class="sp" x="1408" y="567.6" width="532.5" height="367.5"/>
<text class="tk" x="1399.7" y="939.9" text-anchor="end" textLength="40.8" lengthAdjust="spacingAndGlyphs">0.0</text>
<text class="tk" x="1399.7" y="871.8" text-anchor="end" textLength="40.8" lengthAdjust="spacingAndGlyphs">0.2</text>
<text class="tk" x="1399.7" y="798.2" text-anchor="end" textLength="40.8" lengthAdjust="spacingAndGlyphs">0.4</text>
<text class="tk" x="1399.7" y="724.5" text-anchor="end" textLength="40.8" lengthAdjust="spacingAndGlyphs">0.6</text>
<text class="tk" x="1399.7" y="650.8" text-anchor="end" textLength="40.8" lengthAdjust="spacingAndGlyphs">0.8</text>
<text class="tk" x="1399.7" y="577.2" text-anchor="end" textLength="40.8" lengthAdjust="spacingAndGlyphs">1.0</text>
<text class="tk" x="1433.9" y="981.1" text-anchor="middle" textLength="40.8" lengthAdjust="spacingAndGlyphs">1.0</text>
<text class="tk" x="1513.1" y="981.1" text-anchor="middle" textLength="40.8" lengthAdjust="spacingAndGlyphs">1.5</text>
<text class="tk" x="1594.8" y="981.1" text-anchor="middle" textLength="40.8" lengthAdjust="spacingAndGlyphs">2.0</text>
<text class="tk" x="1673.6" y="981.1" text-anchor="middle" textLength="40.8" lengthAdjust="spacingAndGlyphs">2.5</text>
<text class="tk" x="1753.8" y="981.1" text-anchor="middle" textLength="40.8" lengthAdjust="spacingAndGlyphs">3.0</text>
<text class="tk" x="1833.8" y="981.1" text-anchor="middle" textLength="40.8" lengthAdjust="spacingAndGlyphs">3.5</text>
<text class="tk" x="1913.6" y="981.1" text-anchor="middle" textLength="40.8" lengthAdjust="spacingAndGlyphs">4.0</text>
<text class="tt" x="1670" y="541.2" text-anchor="middle" textLength="183" lengthAdjust="spacingAndGlyphs">Czech ALS</text>
<text class="lb" x="1673.3" y="1009.8" text-anchor="middle" textLength="225.6" lengthAdjust="spacingAndGlyphs">ALSFRS-R_speech</text>
<text class="yl" transform="translate(1337 741.7) rotate(-90)" text-anchor="middle" textLength="275.8" lengthAdjust="spacingAndGlyphs">ki: intelligibility score</text>
</g>
</svg>
</body></html>
